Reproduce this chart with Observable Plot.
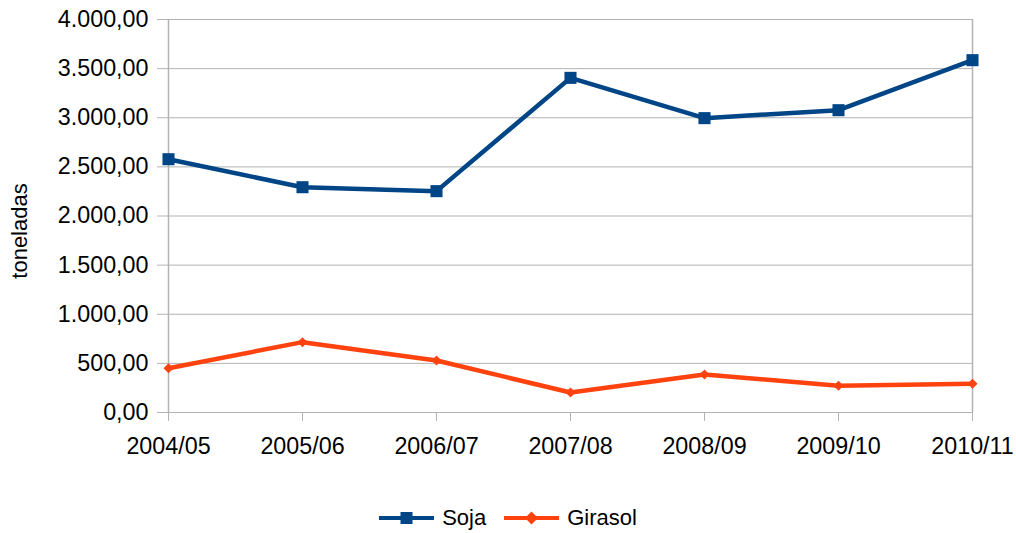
<!DOCTYPE html>
<html>
<head>
<meta charset="utf-8">
<script src="https://cdn.jsdelivr.net/npm/d3@7"></script>
<script src="https://cdn.jsdelivr.net/npm/@observablehq/plot@0.6"></script>
<style>
  html, body { margin: 0; padding: 0; background: #fff; overflow: hidden; }
  body { width: 1016px; height: 533px; font-family: "Liberation Sans", Arial, sans-serif; }
  #legend { height: 30px; padding-top: 33px; display: flex; justify-content: center; align-items: center; font-size: 22px; color: #000; }
  .item { display: flex; align-items: center; }
  .item svg { margin-right: 8px; }
  .item + .item { margin-left: 18px; }
</style>
</head>
<body>
<div id="chart"></div>
<div id="legend"></div>
<script>
const categories = ["2004/05", "2005/06", "2006/07", "2007/08", "2008/09", "2009/10", "2010/11"];
const soja = [2578, 2293, 2253, 3406, 2996, 3077, 3586];
const girasol = [451, 716, 529, 204, 387, 272, 292];
const yTicks = [0, 500, 1000, 1500, 2000, 2500, 3000, 3500, 4000];
const seriesNames = ["Soja", "Girasol"];
const seriesColors = ["#004586", "#ff420e"];

const data = [
  ...categories.map((c, i) => ({cat: c, value: soja[i], series: "Soja"})),
  ...categories.map((c, i) => ({cat: c, value: girasol[i], series: "Girasol"}))
];

const locale = d3.formatLocale({decimal: ",", thousands: ".", grouping: [3], currency: ["", ""]});
const fmt = locale.format(",.2f");
const grid = "#b3b3b3";
const fs = 23.3;

const chart = Plot.plot({
  width: 1016,
  height: 470,
  marginLeft: 166,
  marginRight: 43,
  marginTop: 19,
  marginBottom: 58,
  style: {fontFamily: "Liberation Sans, Arial, sans-serif", fontSize: fs + "px", color: "#000", background: "#fff", overflow: "visible"},
  x: {type: "point", domain: categories, padding: 0, label: null},
  y: {domain: [0, 4000], label: null},
  color: {domain: seriesNames, range: seriesColors},
  marks: [
    Plot.gridY(yTicks, {stroke: grid, strokeOpacity: 1, strokeWidth: 1}),
    Plot.ruleX([categories[0], categories[categories.length - 1]], {stroke: grid, strokeWidth: 1.5}),
    Plot.axisY(yTicks, {tickSize: 9, tickPadding: 9, stroke: grid, strokeOpacity: 1, fill: "#000", tickFormat: fmt, fontSize: fs, label: null}),
    Plot.axisX(categories, {tickSize: 9, tickPadding: 16, stroke: grid, strokeOpacity: 1, fill: "#000", fontSize: fs, label: null}),
    Plot.text(["toneladas"], {frameAnchor: "left", textAnchor: "middle", dx: -146.5, dy: 15, rotate: -90, fontSize: 22, fill: "#000"}),
    Plot.line(data, {x: "cat", y: "value", stroke: "series", strokeWidth: 4.5, strokeLinejoin: "miter"}),
    Plot.dot(data.filter(d => d.series === "Soja"), {x: "cat", y: "value", fill: "series", symbol: () => "square", r: 6.8}),
    Plot.dot(data.filter(d => d.series === "Girasol"), {x: "cat", y: "value", fill: "series", symbol: () => "diamond2", r: 4.5})
  ]
});
document.getElementById("chart").appendChild(chart);

// Legend
const legend = d3.select("#legend");
seriesNames.forEach((name, i) => {
  const item = legend.append("div").attr("class", "item");
  const svg = item.append("svg").attr("width", 55).attr("height", 16);
  svg.append("line").attr("x1", 0).attr("x2", 55).attr("y1", 8).attr("y2", 8)
    .attr("stroke", seriesColors[i]).attr("stroke-width", 4);
  if (name === "Soja") {
    svg.append("rect").attr("x", 21.5).attr("y", 2).attr("width", 12).attr("height", 12).attr("fill", seriesColors[i]);
  } else {
    svg.append("path").attr("d", "M27.5,1.5L34,8L27.5,14.5L21,8Z").attr("fill", seriesColors[i]);
  }
  item.append("span").text(name);
});
</script>
</body>
</html>
